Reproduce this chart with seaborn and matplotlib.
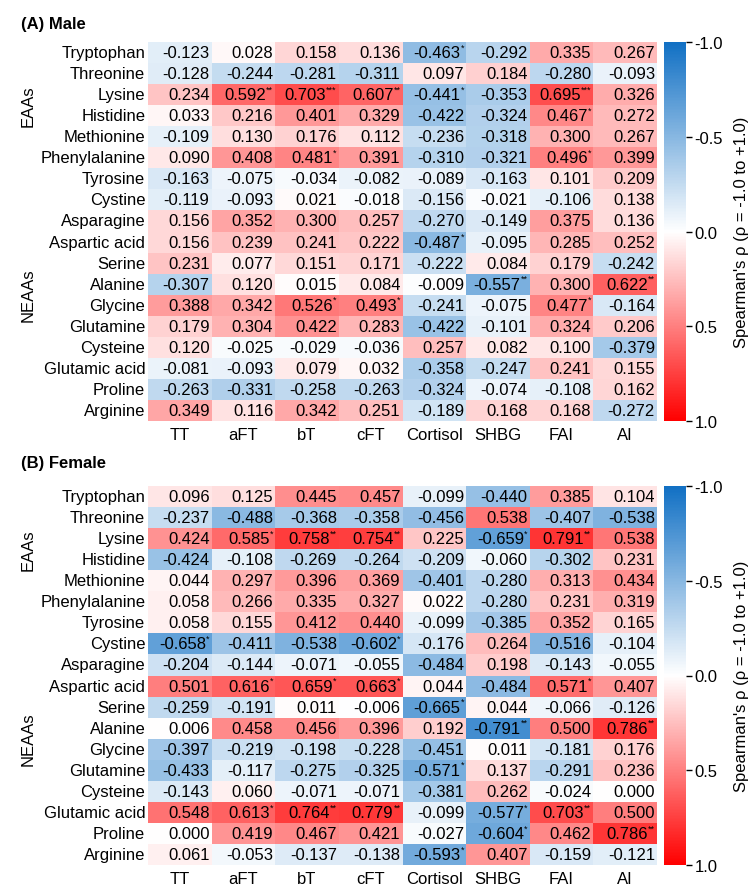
import numpy as np
import pandas as pd
import matplotlib
matplotlib.use("Agg")
import matplotlib.pyplot as plt
import seaborn as sns
from matplotlib.colors import LinearSegmentedColormap
from matplotlib.transforms import blended_transform_factory

hormones = ["TT", "aFT", "bT", "cFT", "Cortisol", "SHBG", "FAI", "AI"]
amino_acids = ["Tryptophan", "Threonine", "Lysine", "Histidine", "Methionine",
               "Phenylalanine", "Tyrosine", "Cystine", "Asparagine", "Aspartic acid",
               "Serine", "Alanine", "Glycine", "Glutamine", "Cysteine",
               "Glutamic acid", "Proline", "Arginine"]

male_rho = [
    [-0.123, 0.028, 0.158, 0.136, -0.463, -0.292, 0.335, 0.267],
    [-0.128, -0.244, -0.281, -0.311, 0.097, 0.184, -0.280, -0.093],
    [0.234, 0.592, 0.703, 0.607, -0.441, -0.353, 0.695, 0.326],
    [0.033, 0.216, 0.401, 0.329, -0.422, -0.324, 0.467, 0.272],
    [-0.109, 0.130, 0.176, 0.112, -0.236, -0.318, 0.300, 0.267],
    [0.090, 0.408, 0.481, 0.391, -0.310, -0.321, 0.496, 0.399],
    [-0.163, -0.075, -0.034, -0.082, -0.089, -0.163, 0.101, 0.209],
    [-0.119, -0.093, 0.021, -0.018, -0.156, -0.021, -0.106, 0.138],
    [0.156, 0.352, 0.300, 0.257, -0.270, -0.149, 0.375, 0.136],
    [0.156, 0.239, 0.241, 0.222, -0.487, -0.095, 0.285, 0.252],
    [0.231, 0.077, 0.151, 0.171, -0.222, 0.084, 0.179, -0.242],
    [-0.307, 0.120, 0.015, 0.084, -0.009, -0.557, 0.300, 0.622],
    [0.388, 0.342, 0.526, 0.493, -0.241, -0.075, 0.477, -0.164],
    [0.179, 0.304, 0.422, 0.283, -0.422, -0.101, 0.324, 0.206],
    [0.120, -0.025, -0.029, -0.036, 0.257, 0.082, 0.100, -0.379],
    [-0.081, -0.093, 0.079, 0.032, -0.358, -0.247, 0.241, 0.155],
    [-0.263, -0.331, -0.258, -0.263, -0.324, -0.074, -0.108, 0.162],
    [0.349, 0.116, 0.342, 0.251, -0.189, 0.168, 0.168, -0.272],
]
male_sig = [
    ["", "", "", "", "*", "", "", ""],
    ["", "", "", "", "", "", "", ""],
    ["", "**", "***", "**", "*", "", "***", ""],
    ["", "", "", "", "", "", "*", ""],
    ["", "", "", "", "", "", "", ""],
    ["", "", "*", "", "", "", "*", ""],
    ["", "", "", "", "", "", "", ""],
    ["", "", "", "", "", "", "", ""],
    ["", "", "", "", "", "", "", ""],
    ["", "", "", "", "*", "", "", ""],
    ["", "", "", "", "", "", "", ""],
    ["", "", "", "", "", "**", "", "**"],
    ["", "", "*", "*", "", "", "*", ""],
    ["", "", "", "", "", "", "", ""],
    ["", "", "", "", "", "", "", ""],
    ["", "", "", "", "", "", "", ""],
    ["", "", "", "", "", "", "", ""],
    ["", "", "", "", "", "", "", ""],
]

female_rho = [
    [0.096, 0.125, 0.445, 0.457, -0.099, -0.440, 0.385, 0.104],
    [-0.237, -0.488, -0.368, -0.358, -0.456, 0.538, -0.407, -0.538],
    [0.424, 0.585, 0.758, 0.754, 0.225, -0.659, 0.791, 0.538],
    [-0.424, -0.108, -0.269, -0.264, -0.209, -0.060, -0.302, 0.231],
    [0.044, 0.297, 0.396, 0.369, -0.401, -0.280, 0.313, 0.434],
    [0.058, 0.266, 0.335, 0.327, 0.022, -0.280, 0.231, 0.319],
    [0.058, 0.155, 0.412, 0.440, -0.099, -0.385, 0.352, 0.165],
    [-0.658, -0.411, -0.538, -0.602, -0.176, 0.264, -0.516, -0.104],
    [-0.204, -0.144, -0.071, -0.055, -0.484, 0.198, -0.143, -0.055],
    [0.501, 0.616, 0.659, 0.663, 0.044, -0.484, 0.571, 0.407],
    [-0.259, -0.191, 0.011, -0.006, -0.665, 0.044, -0.066, -0.126],
    [0.006, 0.458, 0.456, 0.396, 0.192, -0.791, 0.500, 0.786],
    [-0.397, -0.219, -0.198, -0.228, -0.451, 0.011, -0.181, 0.176],
    [-0.433, -0.117, -0.275, -0.325, -0.571, 0.137, -0.291, 0.236],
    [-0.143, 0.060, -0.071, -0.071, -0.381, 0.262, -0.024, 0.000],
    [0.548, 0.613, 0.764, 0.779, -0.099, -0.577, 0.703, 0.500],
    [0.000, 0.419, 0.467, 0.421, -0.027, -0.604, 0.462, 0.786],
    [0.061, -0.053, -0.137, -0.138, -0.593, 0.407, -0.159, -0.121],
]
female_sig = [
    ["", "", "", "", "", "", "", ""],
    ["", "", "", "", "", "", "", ""],
    ["", "*", "**", "**", "", "*", "**", ""],
    ["", "", "", "", "", "", "", ""],
    ["", "", "", "", "", "", "", ""],
    ["", "", "", "", "", "", "", ""],
    ["", "", "", "", "", "", "", ""],
    ["*", "", "", "*", "", "", "", ""],
    ["", "", "", "", "", "", "", ""],
    ["", "*", "*", "*", "", "", "*", ""],
    ["", "", "", "", "*", "", "", ""],
    ["", "", "", "", "", "**", "", "**"],
    ["", "", "", "", "", "", "", ""],
    ["", "", "", "", "*", "", "", ""],
    ["", "", "", "", "", "", "", ""],
    ["", "*", "**", "**", "", "*", "**", ""],
    ["", "", "", "", "", "*", "", "**"],
    ["", "", "", "", "*", "", "", ""],
]

group_labels = ["EAAs", "NEAAs"]
group_centers = [3.0, 12.0]
panel_titles = ["(A) Male", "(B) Female"]
cbar_ticks = [-1.0, -0.5, 0.0, 0.5, 1.0]
cbar_label = "Spearman's ρ (ρ = -1.0 to +1.0)"

sns.set_theme(style="white")
plt.rcParams["font.family"] = ["Liberation Sans", "DejaVu Sans"]
plt.rcParams["text.color"] = "black"
plt.rcParams["axes.labelcolor"] = "black"
plt.rcParams["xtick.color"] = "black"
plt.rcParams["ytick.color"] = "black"

W, H = 750, 895
fig = plt.figure(figsize=(W / 100, H / 100), dpi=100)
cmap = LinearSegmentedColormap.from_list("bwr_custom", ["#1170c4", "#ffffff", "#ff0000"])


def fx(px):
    return px / W


def fy(py):
    return 1 - py / H


panels = [(male_rho, male_sig, 43, 25), (female_rho, female_sig, 487, 464)]
renderer = fig.canvas.get_renderer()

for (rho, sig, top_px, title_px), title in zip(panels, panel_titles):
    height_px = 379
    ax = fig.add_axes([fx(148), fy(top_px + height_px), fx(657) - fx(148), height_px / H])
    cax = fig.add_axes([fx(664), fy(top_px + height_px), fx(686) - fx(664), height_px / H])
    df = pd.DataFrame(rho, index=amino_acids, columns=hormones)
    sns.heatmap(df, ax=ax, cbar_ax=cax, cmap=cmap, vmin=-1, vmax=1,
                linewidths=0, xticklabels=hormones, yticklabels=amino_acids)
    ax.tick_params(axis="both", length=0, labelsize=12, labelcolor="black")
    ax.tick_params(axis="y", pad=2)
    ax.tick_params(axis="x", pad=4)
    ax.set_yticklabels(amino_acids, rotation=0)
    ax.set_xticklabels(hormones, rotation=0)
    ax.set_xlabel("")
    ax.set_ylabel("")

    for i in range(len(amino_acids)):
        for j in range(len(hormones)):
            val = df.iloc[i, j]
            s = sig[i][j]
            offset = -1.5
            if s:
                st = ax.annotate(s, xy=(j + 1, i + 0.5), xytext=(-1.5, 4.0),
                                 textcoords="offset points", ha="right", va="center",
                                 fontsize=6.5, color="black")
                w = st.get_window_extent(renderer).width * 72 / fig.dpi
                offset = -1.5 - w
            ax.annotate(f"{val:.3f}", xy=(j + 1, i + 0.5), xytext=(offset, 0),
                        textcoords="offset points", ha="right", va="center",
                        fontsize=12, color="black")

    cbar = ax.collections[0].colorbar
    cbar.set_ticks(cbar_ticks)
    cbar.set_ticklabels([f"{t:.1f}" for t in cbar_ticks])
    cbar.ax.invert_yaxis()
    cbar.ax.tick_params(axis="y", length=4, width=1, color="black", labelcolor="black",
                        labelsize=12, direction="out", right=True, pad=2)
    cbar.set_label(cbar_label, fontsize=12, labelpad=8, color="black")
    cbar.outline.set_linewidth(0)

    trans = blended_transform_factory(fig.transFigure, ax.transData)
    for lab, c in zip(group_labels, group_centers):
        ax.text(fx(28), c, lab, rotation=90, ha="center", va="center",
                fontsize=12, color="black", transform=trans)

    fig.text(fx(21), fy(title_px), title, fontsize=12, fontweight="bold",
             ha="left", va="center", color="black")

fig.savefig("out.png", dpi=100)
